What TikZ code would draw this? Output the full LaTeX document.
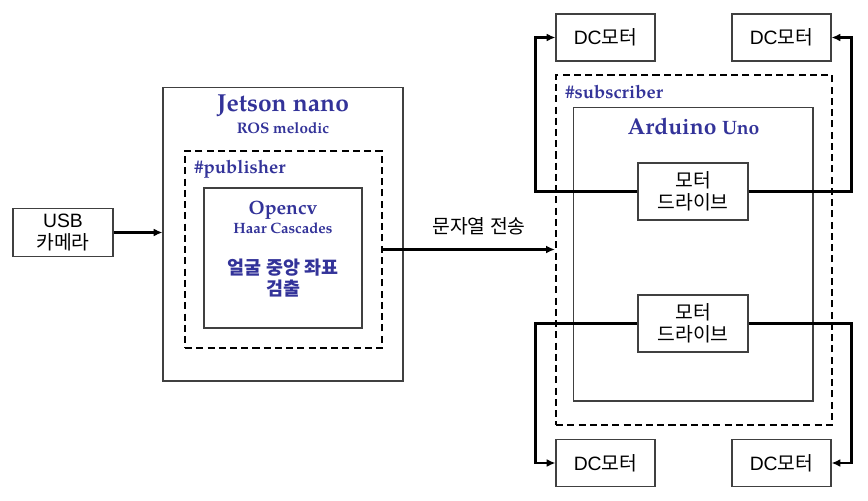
\documentclass[tikz,border=0pt]{standalone}
\usepackage{fontspec}
\setmainfont{TeX Gyre Pagella}
\setsansfont{Liberation Sans}
\newfontfamily\kr{Noto Sans CJK KR}
\usetikzlibrary{positioning,arrows.meta}
\definecolor{navy}{RGB}{51,51,153}

\begin{document}
\begin{tikzpicture}[x=0.02cm, y=-0.02cm, >={Latex[length=5pt,width=4.5pt]},
    box/.style={draw=black!75, line width=0.6pt},
    dbox/.style={draw=black, line width=1.3pt, dash pattern=on 4pt off 2.4pt},
    hw/.style={align=center, font=\kr\fontsize{11}{12.5}\selectfont},
    blue/.style={text=navy, font=\bfseries\fontsize{#1}{#1}\selectfont, inner sep=0pt},
    wire/.style={black, line width=1.3pt}]
  \useasboundingbox (0,0) rectangle (868,500);

  % Jetson side
  \node[box, hw, minimum width=2cm, minimum height=0.94cm] (usb) at (63,232.5) {{\sffamily USB}\\카메라};
  \node[box, minimum width=4.8cm, minimum height=5.88cm] (jetson) at (283,234) {};
  \node[blue=14] (jtitle) at (283,106) {Jetson nano};
  \node[blue=8.7] (ros) at (283,128.5) {ROS melodic};
  \node[dbox, minimum width=3.94cm, minimum height=3.94cm] (pub) at (283.5,249.5) {};
  \node[blue=10.5, anchor=west] (pubtag) at (194,169) {\#publisher};
  \node[box, minimum width=3.16cm, minimum height=2.8cm] (cv) at (283,258) {};
  \node[blue=11] (cvname) at (283,210.5) {Opencv};
  \node[blue=8.5] (haar) at (283,228.5) {Haar Cascades};
  \node[text=navy, align=center, font=\kr\bfseries\fontsize{10.5}{11.5}\selectfont] (face) at (283,278) {얼굴 중앙 좌표\\검출};

  % Arduino side
  \node[dbox, minimum width=5.52cm, minimum height=7cm] (sub) at (694,250) {};
  \node[blue=10.5, anchor=west] (subtag) at (565,92) {\#subscriber};
  \node[box, minimum width=4.8cm, minimum height=5.88cm] (uno) at (693,254) {};
  \node[blue=13] (unotitle) at (693.5,126) {Arduino {\fontsize{11}{11}\selectfont Uno}};
  \node[box, hw, fill=white, minimum width=2.2cm, minimum height=1.14cm] (drvA) at (693,191.5) {모터\\드라이브};
  \node[box, hw, fill=white, minimum width=2.2cm, minimum height=1.14cm] (drvB) at (693,323.5) {모터\\드라이브};

  \node[box, hw, minimum width=1.98cm, minimum height=0.94cm] (dcA) at (605.5,37.5) {{\sffamily DC}모터};
  \node[box, hw, minimum width=1.98cm, minimum height=0.94cm] (dcB) at (781.5,37.5) {{\sffamily DC}모터};
  \node[box, hw, minimum width=1.98cm, minimum height=0.94cm] (dcC) at (605.5,463) {{\sffamily DC}모터};
  \node[box, hw, minimum width=1.98cm, minimum height=0.94cm] (dcD) at (781.5,463) {{\sffamily DC}모터};

  % connectors
  \draw[wire, ->] (usb.east) -- (usb.east -| jetson.west);
  \draw[wire, ->] (pub.east) -- (pub.east -| sub.west)
    node[midway, above=4pt, xshift=10*0.02cm, hw] {문자열 전송};
  \draw[wire, ->] (drvA.west) -- ++(-102,0) |- (dcA.west);
  \draw[wire, ->] (drvA.east) -- ++(103,0) |- (dcB.east);
  \draw[wire, ->] (drvB.west) -- ++(-102,0) |- (dcC.west);
  \draw[wire, ->] (drvB.east) -- ++(103,0) |- (dcD.east);
\end{tikzpicture}
\end{document}
